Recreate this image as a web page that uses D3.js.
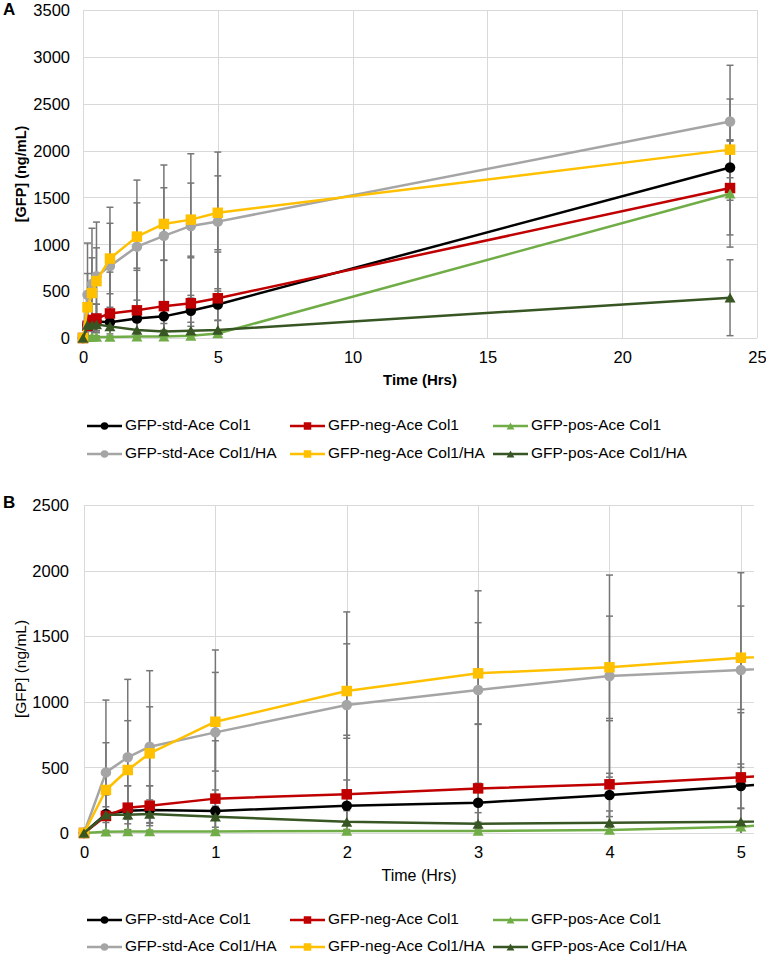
<!DOCTYPE html>
<html>
<head>
<meta charset="utf-8">
<script src="https://cdn.jsdelivr.net/npm/d3@7"></script>
<style>
  html, body { margin: 0; padding: 0; background: #fff; }
  svg { display: block; }
  text { font-family: "Liberation Sans", Arial, Helvetica, sans-serif; fill: #000; }
</style>
</head>
<body>
<svg id="chart" width="766" height="958"></svg>
<script>
// ---------------- DATA ----------------
const times = [0, 0.167, 0.333, 0.5, 1, 2, 3, 4, 5, 24];

const seriesNames = [
  "GFP-std-Ace Col1", "GFP-neg-Ace Col1", "GFP-pos-Ace Col1",
  "GFP-std-Ace Col1/HA", "GFP-neg-Ace Col1/HA", "GFP-pos-Ace Col1/HA"
];

// mean [GFP] (ng/mL)
const stdCol1   = [0, 145, 170, 175, 168, 208, 231, 290, 358, 1820];
const negCol1   = [0, 130, 193, 208, 262, 295, 340, 371, 424, 1600];
const posCol1   = [0, 10, 12, 12, 12, 15, 15, 23, 48, 1540];
const stdCol1HA = [0, 462, 577, 658, 767, 975, 1090, 1196, 1242, 2310];
const negCol1HA = [0, 328, 480, 607, 848, 1082, 1217, 1263, 1336, 2010];
const posCol1HA = [0, 140, 140, 145, 124, 85, 70, 78, 86, 430];

// error (± ng/mL)
const errStdCol1   = [0, 150, 190, 185, 160, 196, 148, 165, 168, 295];
const errNegCol1   = [0, 160, 167, 152, 441, 450, 488, 485, 493, 500];
const errPosCol1   = [0, 10, 10, 10, 10, 12, 15, 20, 25, 570];
const errStdCol1HA = [0, 551, 594, 579, 628, 710, 756, 770, 742, 600];
const errNegCol1HA = [0, 360, 376, 355, 376, 360, 386, 390, 394, 540];
const errPosCol1HA = [0, 60, 70, 70, 80, 85, 85, 90, 100, 405];

const xTicksA = [0, 5, 10, 15, 20, 25];
const yTicksA = [0, 500, 1000, 1500, 2000, 2500, 3000, 3500];
const xTicksB = [0, 1, 2, 3, 4, 5];
const yTicksB = [0, 500, 1000, 1500, 2000, 2500];

const xTitle = "Time (Hrs)";
const yTitle = "[GFP] (ng/mL)";

// ---------------- STYLE ----------------
const colors  = ["#000000", "#C00000", "#70AD47", "#A5A5A5", "#FFC000", "#375623"];
const shapes  = ["circle", "square", "triangle", "circle", "square", "triangle"];
const means   = [stdCol1, negCol1, posCol1, stdCol1HA, negCol1HA, posCol1HA];
const errs    = [errStdCol1, errNegCol1, errPosCol1, errStdCol1HA, errNegCol1HA, errPosCol1HA];

const series = seriesNames.map((name, i) => ({
  name, color: colors[i], shape: shapes[i],
  points: times.map((t, j) => ({ t, v: means[i][j], e: errs[i][j] }))
}));

const svg = d3.select("#chart");
const FONT = '"Liberation Sans", Arial, Helvetica, sans-serif';

function drawMarker(g, shape, x, y, size, color) {
  if (shape === "circle") {
    g.append("circle").attr("cx", x).attr("cy", y).attr("r", size / 2).attr("fill", color);
  } else if (shape === "square") {
    g.append("rect").attr("x", x - size / 2).attr("y", y - size / 2)
      .attr("width", size).attr("height", size).attr("fill", color);
  } else {
    const w = size * 1.05, h = size * 0.92;
    g.append("path")
      .attr("d", `M${x},${y - h / 2}L${x + w / 2},${y + h / 2}L${x - w / 2},${y + h / 2}Z`)
      .attr("fill", color);
  }
}

function drawPanel(cfg, idx) {
  const x = d3.scaleLinear().domain([0, cfg.xMax]).range([cfg.left, cfg.right]);
  const y = d3.scaleLinear().domain([0, cfg.yMax]).range([cfg.bottom, cfg.top]);
  const g = svg.append("g");

  // clip paths
  const defs = svg.append("defs");
  defs.append("clipPath").attr("id", "clipE" + idx).append("rect")
    .attr("x", cfg.left).attr("y", cfg.top).attr("width", cfg.right - cfg.left)
    .attr("height", cfg.bottom - cfg.top);
  defs.append("clipPath").attr("id", "clipL" + idx).append("rect")
    .attr("x", cfg.left).attr("y", cfg.top - 4).attr("width", cfg.right - cfg.left)
    .attr("height", cfg.bottom - cfg.top + 8);

  // gridlines
  const grid = g.append("g").attr("stroke", "#d9d9d9").attr("stroke-width", 1).attr("fill", "none");
  cfg.yTicks.forEach(v => {
    grid.append("line").attr("x1", cfg.left).attr("x2", cfg.right)
      .attr("y1", Math.round(y(v)) + 0.5).attr("y2", Math.round(y(v)) + 0.5);
  });
  cfg.xTicks.forEach(v => {
    grid.append("line").attr("x1", Math.round(x(v)) + 0.5).attr("x2", Math.round(x(v)) + 0.5)
      .attr("y1", cfg.top).attr("y2", cfg.bottom);
  });

  // axes (labels only, via d3 axes)
  const yAxis = d3.axisLeft(y).tickValues(cfg.yTicks).tickSize(0).tickPadding(0).tickFormat(d3.format("d"));
  const yg = g.append("g").attr("transform", `translate(${cfg.yLabelX},0)`).call(yAxis);
  yg.select(".domain").remove();
  yg.selectAll("text").attr("font-size", 16.5).attr("font-family", FONT).attr("fill", "#000")
    .attr("dy", "0.35em");

  const xAxis = d3.axisBottom(x).tickValues(cfg.xTicks).tickSize(0).tickPadding(0).tickFormat(d3.format("d"));
  const xg = g.append("g").attr("transform", `translate(0,${cfg.xLabelY})`).call(xAxis);
  xg.select(".domain").remove();
  xg.selectAll("text").attr("font-size", 16.5).attr("font-family", FONT).attr("fill", "#000")
    .attr("dy", "0.35em");

  // error bars
  const eg = g.append("g").attr("clip-path", `url(#clipE${idx})`)
    .attr("stroke", "#767676").attr("stroke-width", 1.5);
  series.forEach(s => {
    s.points.forEach(p => {
      if (p.e <= 0 || p.t > cfg.xMax) return;
      const px = x(p.t);
      eg.append("line").attr("x1", px).attr("x2", px).attr("y1", y(p.v + p.e)).attr("y2", y(p.v - p.e));
      eg.append("line").attr("x1", px - 3.5).attr("x2", px + 3.5).attr("y1", y(p.v + p.e)).attr("y2", y(p.v + p.e));
      eg.append("line").attr("x1", px - 3.5).attr("x2", px + 3.5).attr("y1", y(p.v - p.e)).attr("y2", y(p.v - p.e));
    });
  });

  // lines + markers per series
  const line = d3.line().x(d => x(d.t)).y(d => y(d.v));
  series.forEach(s => {
    g.append("path").attr("clip-path", `url(#clipL${idx})`)
      .attr("d", line(s.points)).attr("fill", "none")
      .attr("stroke", s.color).attr("stroke-width", 2.5).attr("stroke-linejoin", "round");
    const mg = g.append("g");
    s.points.filter(p => p.t <= cfg.xMax).forEach(p => {
      drawMarker(mg, s.shape, x(p.t), y(p.v), 10.5, s.color);
    });
  });

  // titles
  g.append("text").attr("x", (cfg.left + cfg.right) / 2).attr("y", cfg.xTitleY)
    .attr("text-anchor", "middle").attr("dominant-baseline", "middle")
    .attr("font-size", cfg.bold ? 15 : 16).attr("font-weight", cfg.bold ? "bold" : "normal")
    .text(xTitle);
  const yc = (cfg.top + cfg.bottom) / 2;
  g.append("text").attr("transform", `translate(${cfg.yTitleX},${yc}) rotate(-90)`)
    .attr("text-anchor", "middle").attr("dominant-baseline", "middle")
    .attr("font-size", cfg.bold ? 14.5 : 15.5).attr("font-weight", cfg.bold ? "bold" : "normal")
    .text(yTitle);

  // panel letter
  g.append("text").attr("x", 3).attr("y", cfg.letterY).attr("dominant-baseline", "middle")
    .attr("font-size", 17).attr("font-weight", "bold").text(cfg.letter);

  // legend
  const colX = [87, 290, 493];
  series.forEach((s, i) => {
    const lx = colX[i % 3];
    const ly = cfg.legendY[Math.floor(i / 3)];
    const lg = g.append("g");
    lg.append("line").attr("x1", lx).attr("x2", lx + 35).attr("y1", ly).attr("y2", ly)
      .attr("stroke", s.color).attr("stroke-width", 2.5);
    drawMarker(lg, s.shape, lx + 17.5, ly, 7.5, s.color);
    lg.append("text").attr("x", lx + 38).attr("y", ly).attr("dominant-baseline", "middle")
      .attr("font-size", 15.5).text(s.name);
  });
}

drawPanel({
  letter: "A", letterY: 11, bold: true,
  left: 83, right: 757, top: 10, bottom: 338,
  xMax: 25, yMax: 3500, xTicks: xTicksA, yTicks: yTicksA,
  yLabelX: 70, xLabelY: 357, xTitleY: 381, yTitleX: 22,
  legendY: [426, 454]
}, 0);

drawPanel({
  letter: "B", letterY: 504, bold: false,
  left: 84, right: 754, top: 505, bottom: 833,
  xMax: 5.1, yMax: 2500, xTicks: xTicksB, yTicks: yTicksB,
  yLabelX: 69, xLabelY: 852, xTitleY: 877, yTitleX: 22,
  legendY: [920, 947]
}, 1);
</script>
</body>
</html>
